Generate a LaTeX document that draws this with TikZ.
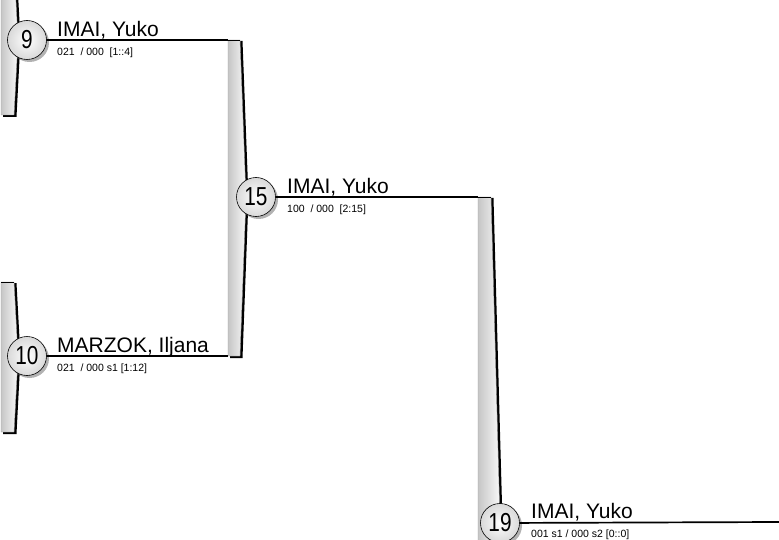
\documentclass[tikz,border=0pt]{standalone}
\usepackage{fontspec}
\setmainfont{Liberation Sans}
\usetikzlibrary{positioning,shadows}

% one bracket bar: left x, top y, bottom y, width at the ends, width at the middle
\newcommand\bracketbar[5]{%
  \fill[black] (#1+2,#2+1) -- (#1+#4+2.5,#2+1) -- (#1+#5+2.5,{(#2+#3)/2})
    -- (#1+#4+2.5,#3+2) -- (#1+2,#3+2) -- cycle;
  \shade[left color=gray!45, middle color=white, right color=gray!5, draw=gray!80, line width=.4pt]
    (#1,#2) -- (#1+#4,#2) -- (#1+#5,{(#2+#3)/2}) -- (#1+#4,#3) -- (#1,#3) -- cycle;
  \draw[line width=.6pt] (#1,#2) -- (#1+#4,#2);
}

\begin{document}
\begin{tikzpicture}[x=1pt, y=-1pt,
  match/.style={circle, draw=black, line width=.6pt, minimum size=39pt, inner sep=0pt,
    shading=radial, inner color=white, outer color=gray!30,
    drop shadow={shadow xshift=2.5pt, shadow yshift=-2.5pt, fill=black!60, opacity=.5},
    font=\fontsize{26}{26}\selectfont},
  player/.style={anchor=base west, inner sep=0pt, font=\fontsize{21}{21}\selectfont},
  score/.style={inner sep=0pt, font=\fontsize{10.5}{12}\selectfont},
  result/.style={line width=1.7pt}]
\useasboundingbox (0,0) rectangle (779,540);

% bars
\bracketbar{1}{-35}{115}{13}{17}
\bracketbar{1}{282}{432}{13}{17}
\bracketbar{228}{40}{356}{12}{18}
\bracketbar{478}{197}{847}{13}{22}

\coordinate (t15) at (228,40);
\coordinate (b15) at (228,356);
\coordinate (t19) at (478,197);
\coordinate (e19) at (779,522);

% matches
\node [match] (m9) at (27,40) {\scalebox{.8}[1]{9}};
\node [match] (m10) at (27,356) {\scalebox{.8}[1]{10}};
\node [match] (m15) at (256,197) {\scalebox{.8}[1]{15}};
\node [match] (m19) at (500,523) {\scalebox{.8}[1]{19}};

% players
\node [player] (p9) at (57,36.5) {IMAI, Yuko};
\node [player] (p10) at (57,352.5) {MARZOK, Iljana};
\node [player] (p15) at (287,193.5) {IMAI, Yuko};
\node [player] (p19) at (531,518.5) {IMAI, Yuko};

\node [score, below=11pt of p9.base west, anchor=north west] (s9) {021\ \ / 000\ \ [1::4]};
\node [score, below=11pt of p10.base west, anchor=north west] (s10) {021\ \ / 000 s1 [1:12]};
\node [score, below=11pt of p15.base west, anchor=north west] (s15) {100\ \ / 000\ \ [2:15]};
\node [score, below=11pt of p19.base west, anchor=north west] (s19) {001 s1 / 000 s2 [0::0]};

\draw [result] (m9) -- (t15);
\draw [result] (m10) -- (b15);
\draw [result] (m15) -- (t19);
\draw [result] (m19) -- (e19);
\end{tikzpicture}
\end{document}
